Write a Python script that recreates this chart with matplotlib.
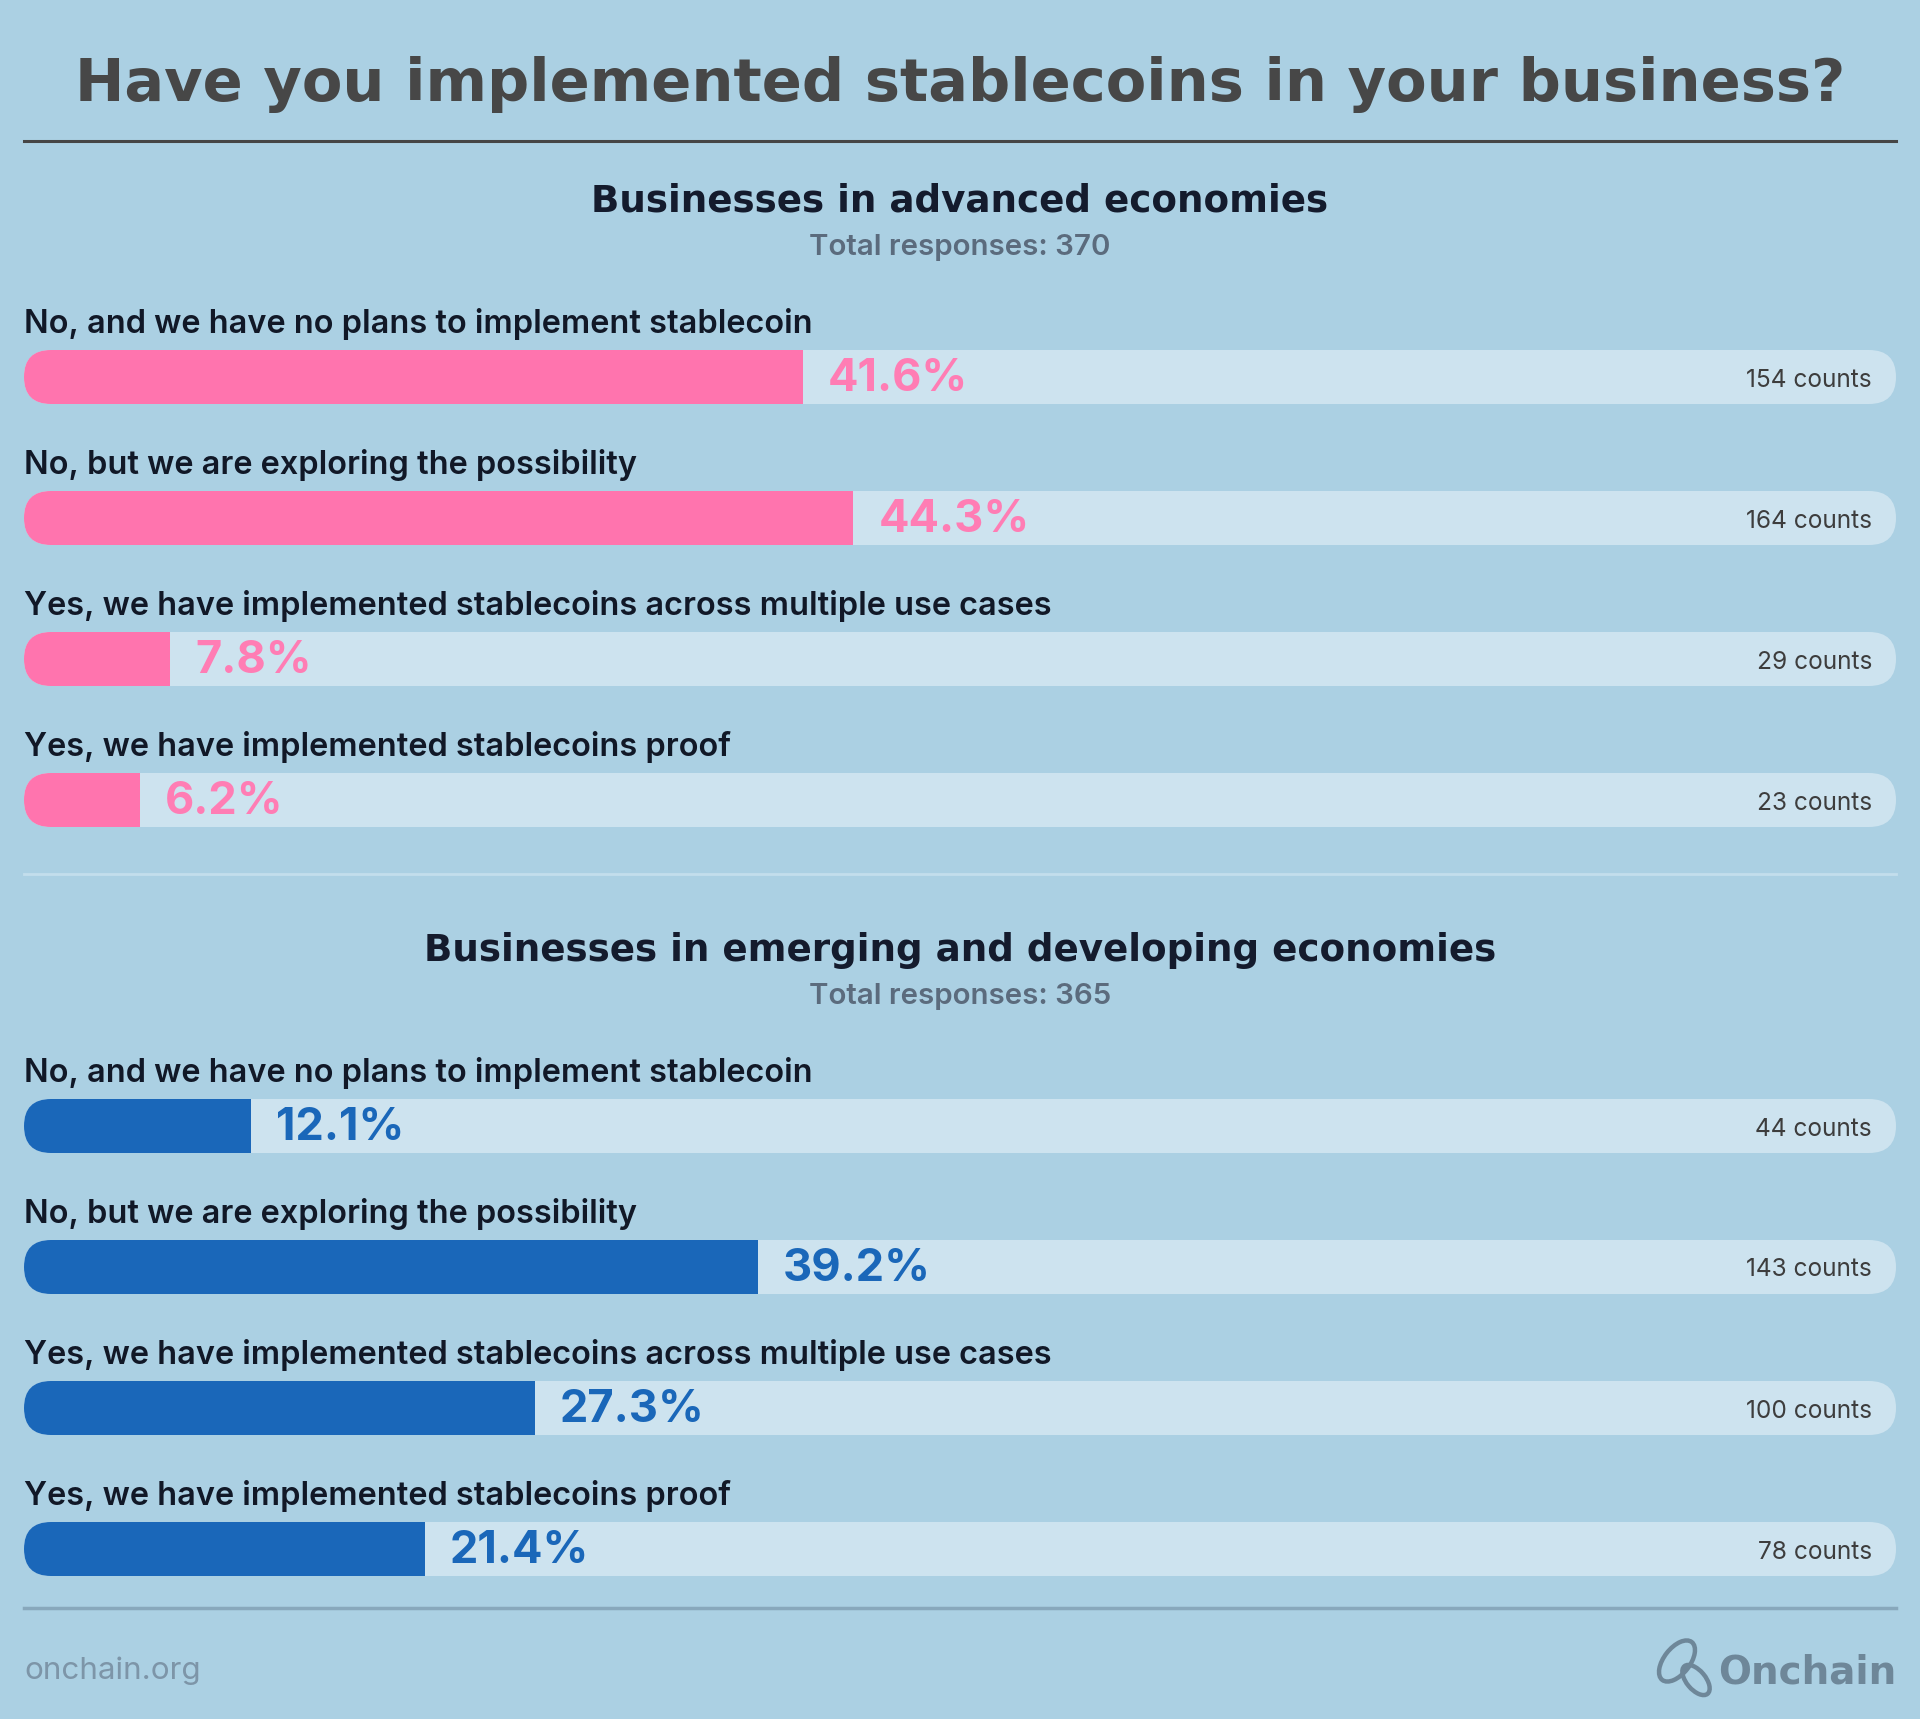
import numpy as np
import matplotlib.pyplot as plt
from matplotlib.patches import FancyBboxPatch, Ellipse

# ---- data ----
categories = [
    "No, and we have no plans to implement stablecoin",
    "No, but we are exploring the possibility",
    "Yes, we have implemented stablecoins across multiple use cases",
    "Yes, we have implemented stablecoins proof",
]
advanced_pct = [41.6, 44.3, 7.8, 6.2]
advanced_counts = [154, 164, 29, 23]
advanced_total = 370
emerging_pct = [12.1, 39.2, 27.3, 21.4]
emerging_counts = [44, 143, 100, 78]
emerging_total = 365

title = "Have you implemented stablecoins in your business?"
section_titles = ["Businesses in advanced economies",
                  "Businesses in emerging and developing economies"]

BG = "#abd0e3"
TRACK = "#cde3ef"
PINK = "#ff74ae"
BLUE = "#1a67b9"

W, H = 1920, 1719
fig = plt.figure(figsize=(W / 100, H / 100), dpi=100)
fig.patch.set_facecolor(BG)

# overlay axes in pixel coordinates for the page furniture
page = fig.add_axes([0, 0, 1, 1])
page.set_xlim(0, W)
page.set_ylim(H, 0)
page.axis("off")

page.text(W / 2, 101, title, ha="center", va="baseline", fontsize=42.6,
          fontweight="bold", color="#474747", family="DejaVu Sans")
page.plot([24, 1896], [141, 141], color="#464646", lw=2.2)
page.plot([24, 1896], [874, 874], color="#c3deec", lw=2)
page.plot([24, 1896], [1608, 1608], color="#88a8bc", lw=2.5)

page.text(24, 1679, "onchain.org", ha="left", va="baseline", fontsize=22.6,
          color="#7d95a8", family="Inter")
page.text(1896, 1683, "Onchain", ha="right", va="baseline", fontsize=28,
          fontweight="bold", color="#6e8799", family="DejaVu Sans")
page.add_patch(Ellipse((1677, 1661), 48, 26, angle=-52, fill=False,
                       ec="#6e8799", lw=3.2))
page.add_patch(Ellipse((1696, 1680), 36, 19, angle=50, fill=False,
                       ec="#6e8799", lw=3.2))

LEFT, RIGHT = 24, 1896
ROW = 141          # px between rows
BAR_H = 54         # px bar height
PX_X = (RIGHT - LEFT) / 100.0


def draw_section(bar0_y, head_y, name, total, pct, counts, color):
    page.text(W / 2, head_y, name, ha="center", va="baseline", fontsize=26.8,
              fontweight="bold", color="#141b2d", family="DejaVu Sans")
    page.text(W / 2, head_y + 43, f"Total responses: {total}", ha="center",
              va="baseline", fontsize=21.2, fontweight="semibold",
              color="#5b6b7d", family="Inter")

    y_lo, y_hi = -0.75, 3.4
    top = bar0_y + y_lo * ROW
    height = (y_hi - y_lo) * ROW
    ax = fig.add_axes([LEFT / W, 1 - (top + height) / H,
                       (RIGHT - LEFT) / W, height / H])
    ax.set_xlim(0, 100)
    ax.set_ylim(y_hi, y_lo)
    ax.axis("off")

    h = BAR_H / ROW
    r = (BAR_H / 2) / PX_X
    aspect = PX_X / ROW
    ypos = np.arange(len(categories))
    for i, (cat, p, c) in enumerate(zip(categories, pct, counts)):
        track = FancyBboxPatch((0, i - h / 2), 100, h,
                               boxstyle=f"round,pad=0,rounding_size={r * 0.999}",
                               mutation_aspect=aspect, fc=TRACK, ec="none")
        ax.add_patch(track)
        bars = ax.barh([ypos[i]], [p], height=h, color=color)
        for b in bars:
            b.set_clip_path(track)
        ax.text(0, i - 44 / ROW, cat, ha="left", va="baseline", fontsize=23.4,
                fontweight="semibold", color="#111827", family="Inter")
        ax.annotate(f"{p}%", (p, i), xytext=(25, -2), textcoords="offset pixels",
                    ha="left", va="center", fontsize=32.5, fontweight="bold",
                    color=color if color != PINK else "#ff7db4",
                    family="Inter")
        ax.annotate(f"{c} counts", (100, i), xytext=(-24, -3),
                    textcoords="offset pixels", ha="right", va="center",
                    fontsize=17.6, color="#3d3d3d", family="Inter")


draw_section(377, 212, section_titles[0], advanced_total, advanced_pct,
             advanced_counts, PINK)
draw_section(1126, 961, section_titles[1], emerging_total, emerging_pct,
             emerging_counts, BLUE)

fig.savefig("out.png", dpi=100, facecolor=BG)
